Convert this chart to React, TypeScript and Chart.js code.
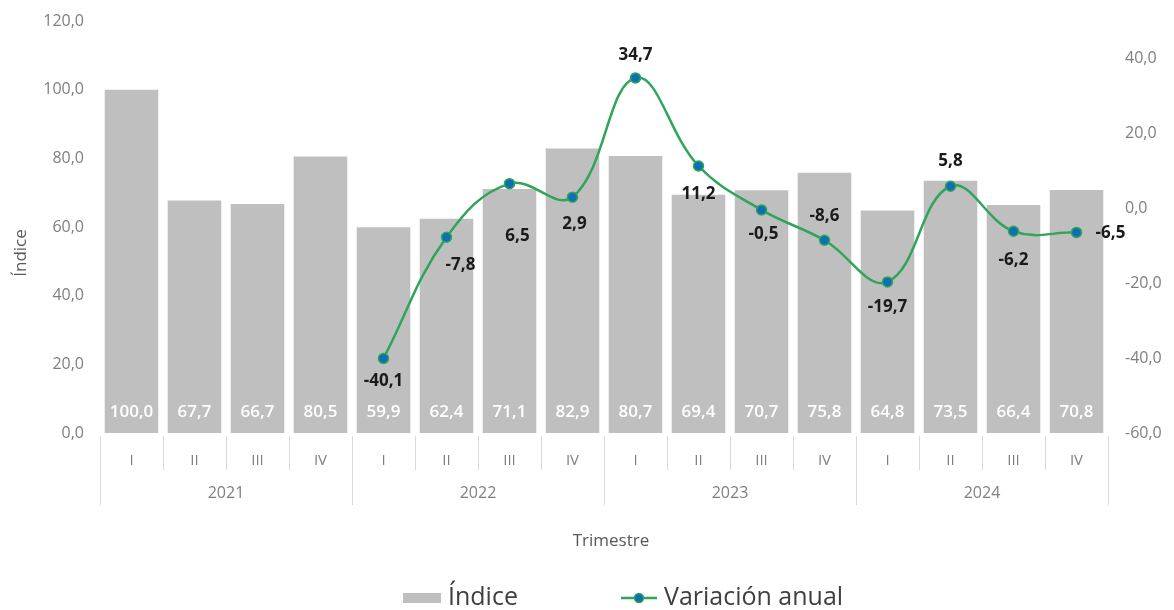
import React, { useEffect, useRef } from "react";
import { Chart, registerables } from "chart.js";

Chart.register(...registerables);

const quarters = ["I", "II", "III", "IV", "I", "II", "III", "IV", "I", "II", "III", "IV", "I", "II", "III", "IV"];
const years = ["2021", "2022", "2023", "2024"];
const indiceValues = [100.0, 67.7, 66.7, 80.5, 59.9, 62.4, 71.1, 82.9, 80.7, 69.4, 70.7, 75.8, 64.8, 73.5, 66.4, 70.8];
const variacionValues: (number | null)[] = [null, null, null, null, -40.1, -7.8, 6.5, 2.9, 34.7, 11.2, -0.5, -8.6, -19.7, 5.8, -6.2, -6.5];
// label offsets (dx, dy) from each point, in px
const lineLabelOffsets: [number, number][] = [
  [0, 0], [0, 0], [0, 0], [0, 0],
  [0, 23], [14, 28], [8, 53], [2, 27], [0, -23], [0, 28], [2, 24], [0, -24], [0, 25], [0, -25], [0, 29], [34, 1],
];

const fmt = (v: number) => v.toFixed(1).replace(".", ",");
const FONT = '"Open Sans", "Liberation Sans", sans-serif';

const overlayPlugin = {
  id: "overlay",
  afterDraw(chart: any) {
    const ctx = chart.ctx as CanvasRenderingContext2D;
    const x = chart.scales.x;
    const area = chart.chartArea;
    const step = x.getPixelForValue(1) - x.getPixelForValue(0);
    ctx.save();

    // category axis separators
    ctx.strokeStyle = "#d9d9d9";
    ctx.lineWidth = 1;
    for (let i = 0; i <= quarters.length; i++) {
      const bx = Math.round(x.getPixelForValue(i) - step / 2) + 0.5;
      const isYear = i % 4 === 0;
      ctx.beginPath();
      ctx.moveTo(bx, area.bottom + 3);
      ctx.lineTo(bx, isYear ? area.bottom + 72 : area.bottom + 37);
      ctx.stroke();
    }
    ctx.fillStyle = "#7f7f7f";
    ctx.textAlign = "center";
    ctx.textBaseline = "middle";
    ctx.font = `15px ${FONT}`;
    quarters.forEach((q, i) => {
      ctx.fillText(q, x.getPixelForValue(i), area.bottom + 28);
    });
    ctx.font = `16px ${FONT}`;
    years.forEach((y, k) => {
      const cx = (x.getPixelForValue(k * 4) + x.getPixelForValue(k * 4 + 3)) / 2;
      ctx.fillText(y, cx, area.bottom + 60);
    });

    // axis titles
    ctx.fillStyle = "#595959";
    ctx.font = `17px ${FONT}`;
    ctx.fillText("Trimestre", 611, 541);
    ctx.save();
    ctx.translate(21, 253);
    ctx.rotate(-Math.PI / 2);
    ctx.fillText("Índice", 0, 0);
    ctx.restore();

    // bar value labels
    const barMeta = chart.getDatasetMeta(1);
    ctx.fillStyle = "#ffffff";
    ctx.font = `600 17px ${FONT}`;
    barMeta.data.forEach((el: any, i: number) => {
      ctx.fillText(fmt(indiceValues[i]), el.x, 412);
    });

    // line value labels
    const lineMeta = chart.getDatasetMeta(0);
    ctx.fillStyle = "#1a1a1a";
    ctx.font = `bold 17px ${FONT}`;
    lineMeta.data.forEach((el: any, i: number) => {
      const v = variacionValues[i];
      if (v === null || v === undefined) return;
      const [dx, dy] = lineLabelOffsets[i];
      ctx.fillText(fmt(v), el.x + dx, el.y + dy);
    });

    // legend
    const ly = 598;
    ctx.fillStyle = "#bfbfbf";
    ctx.fillRect(403, ly - 5, 38, 10);
    ctx.fillStyle = "#404040";
    ctx.font = `25px ${FONT}`;
    ctx.textAlign = "left";
    ctx.fillText("Índice", 448, ly);
    ctx.strokeStyle = "#2ea55a";
    ctx.lineWidth = 2.5;
    ctx.beginPath();
    ctx.moveTo(621, ly);
    ctx.lineTo(657, ly);
    ctx.stroke();
    ctx.beginPath();
    ctx.arc(639, ly, 4.5, 0, Math.PI * 2);
    ctx.fillStyle = "#0e6fb4";
    ctx.fill();
    ctx.lineWidth = 1.5;
    ctx.stroke();
    ctx.fillStyle = "#404040";
    ctx.fillText("Variación anual", 664, ly);

    ctx.restore();
  },
};

export default function App() {
  const canvasRef = useRef<HTMLCanvasElement | null>(null);

  useEffect(() => {
    if (!canvasRef.current) return;
    const chart = new Chart(canvasRef.current, {
      type: "bar",
      data: {
        labels: quarters,
        datasets: [
          {
            type: "line",
            label: "Variación anual",
            data: variacionValues,
            yAxisID: "y1",
            borderColor: "#2ea55a",
            borderWidth: 2.5,
            backgroundColor: "#0e6fb4",
            pointBackgroundColor: "#0e6fb4",
            pointBorderColor: "#2ea55a",
            pointBorderWidth: 1.5,
            pointRadius: 5,
            tension: 0.4,
            order: 0,
          } as any,
          {
            type: "bar",
            label: "Índice",
            data: indiceValues,
            yAxisID: "y",
            backgroundColor: "#bfbfbf",
            categoryPercentage: 1,
            barPercentage: 0.85,
            order: 1,
          },
        ],
      },
      options: {
        responsive: false,
        animation: false,
        layout: { padding: { top: 21, bottom: 0, left: 0, right: 0 } },
        plugins: { legend: { display: false }, tooltip: { enabled: false } },
        scales: {
          x: {
            type: "category",
            offset: true,
            grid: { display: false },
            border: { display: false },
            ticks: { display: false },
            afterFit: (s: any) => { s.height = 177; s.paddingLeft = 0; s.paddingRight = 0; },
          },
          y: {
            position: "left",
            min: 0,
            max: 120,
            grid: { display: false, drawTicks: false },
            border: { display: false },
            ticks: {
              stepSize: 20,
              padding: 16,
              color: "#7f7f7f",
              font: { family: FONT, size: 16 },
              callback: (v: any) => fmt(Number(v)),
            },
            afterFit: (s: any) => { s.width = 100; s.paddingTop = 0; s.paddingBottom = 0; },
          },
          y1: {
            position: "right",
            min: -60,
            max: 49.87,
            grid: { display: false, drawTicks: false },
            border: { display: false },
            ticks: {
              stepSize: 20,
              includeBounds: false,
              padding: 17,
              color: "#7f7f7f",
              font: { family: FONT, size: 16 },
              callback: (v: any) => fmt(Number(v)),
            },
            afterFit: (s: any) => { s.width = 66; s.paddingTop = 0; s.paddingBottom = 0; },
          },
        },
      },
      plugins: [overlayPlugin],
    });
    return () => chart.destroy();
  }, []);

  return (
    <div style={{ position: "fixed", left: 0, top: 0, width: 1174, height: 610, background: "#ffffff" }}>
      <canvas ref={canvasRef} width={1174} height={610} />
    </div>
  );
}
